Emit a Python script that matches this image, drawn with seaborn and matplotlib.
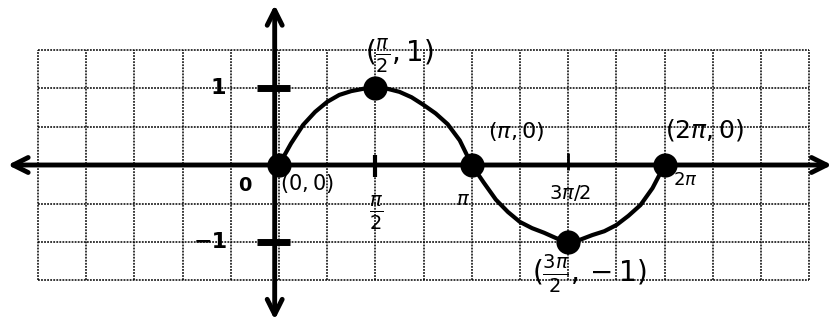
"""
Hand-drawn style graph of y = sin(x) over one period, on grid paper.
Saves out.png at 838x325.
"""

import matplotlib.pyplot as plt
import numpy as np
import seaborn as sns

# curve, x in sixteenths of pi
curve_x16 = [0, 1, 2, 3, 4, 5, 6, 7, 8, 9, 10, 11, 12, 13, 14, 15, 16,
             17, 18, 19, 20, 21, 22, 23, 24, 25, 26, 27, 28, 29, 30, 31, 32]
curve_y = [0.0, 0.28, 0.52, 0.69, 0.82, 0.91, 0.96, 0.99, 1.0, 0.99, 0.95, 0.88, 0.78, 0.67, 0.53, 0.32, 0.0,
           -0.23, -0.45, -0.61, -0.74, -0.82, -0.88, -0.95, -1.0, -0.97, -0.91, -0.86, -0.78, -0.66, -0.52, -0.3, 0.0]

# key points (x in halves of pi)
key_x2 = [0, 1, 2, 3, 4]
key_y = [0, 1, 0, -1, 0]
key_labels = [r"$(0,0)$", r"$(\frac{\pi}{2},1)$", r"$(\pi,0)$", r"$(\frac{3\pi}{2},-1)$", r"$(2\pi,0)$"]

# axis labels
y_tick_values = [1, -1]
y_tick_labels = ["1", "−1"]
x_tick_x2 = [1, 2, 3, 4]
x_tick_labels = [r"$\frac{\pi}{2}$", r"$\pi$", r"$3\pi/2$", r"$2\pi$"]

sns.set_theme(style="white")
plt.rcParams["font.family"] = ["DejaVu Sans"]
plt.rcParams["mathtext.fontset"] = "dejavusans"
plt.rcParams["text.color"] = "black"

fig, ax = plt.subplots(figsize=(8.38, 3.25), dpi=100)
fig.subplots_adjust(left=0, right=1, bottom=0, top=1)
ax.set_xlim(-4.546, 9.109)
ax.set_ylim(-2.078, 2.143)
ax.axis("off")

# grid paper: columns are pi/4 wide, rows are 0.5 tall
q = np.pi / 4
cols = [c * q for c in range(-5, 12)]
rows = [r * 0.5 for r in range(-3, 4)]
ax.vlines(cols, rows[0], rows[-1], color="black", lw=1.1, linestyles=(0, (1.2, 0.8)), zorder=1)
ax.hlines(rows, cols[0], cols[-1], color="black", lw=1.1, linestyles=(0, (1.2, 0.8)), zorder=1)

# axes with open arrowheads
arrow = dict(arrowstyle="<->, head_length=0.9, head_width=0.45", lw=3.5, color="black",
             shrinkA=0, shrinkB=0)
ax.annotate("", xy=(-4.42, 0), xytext=(9.01, 0), arrowprops=arrow, zorder=3)
ax.annotate("", xy=(-0.07, 2.08), xytext=(-0.07, -2.01), arrowprops=arrow, zorder=3)

# tick marks
ax.hlines(y_tick_values, -0.36, 0.18, color="black", lw=5, zorder=3)
ax.vlines([np.pi / 2], -0.15, 0.13, color="black", lw=3, zorder=3)
ax.vlines([3 * np.pi / 2], -0.06, 0.16, color="black", lw=2, zorder=3)

# curve and key points
sns.lineplot(x=np.array(curve_x16) * np.pi / 16, y=curve_y, color="black", lw=3, ax=ax, zorder=4)
sns.scatterplot(x=np.array(key_x2) * np.pi / 2, y=key_y, color="black", s=260, edgecolor="black",
                ax=ax, zorder=5)

# labels
for v, t, dx in zip(y_tick_values, y_tick_labels, [-0.99, -1.12]):
    ax.text(dx, v, t, fontsize=16, fontweight="bold", ha="center", va="center")
ax.text(-0.55, -0.26, "0", fontsize=14, fontweight="bold", ha="center", va="center")
x_label_pos = [(1.58, -0.62, 20), (3.0, -0.45, 14), (4.74, -0.36, 14), (6.62, -0.2, 13)]
for (lx, ly, fs), t in zip(x_label_pos, x_tick_labels):
    ax.text(lx, ly, t, fontsize=fs, ha="center", va="center")

key_label_pos = [(0.45, -0.24, 15), (1.97, 1.42, 20), (3.86, 0.43, 16), (5.06, -1.42, 20), (6.94, 0.45, 18)]
for (lx, ly, fs), t in zip(key_label_pos, key_labels):
    ax.text(lx, ly, t, fontsize=fs, ha="center", va="center")

fig.savefig("out.png", dpi=100)
